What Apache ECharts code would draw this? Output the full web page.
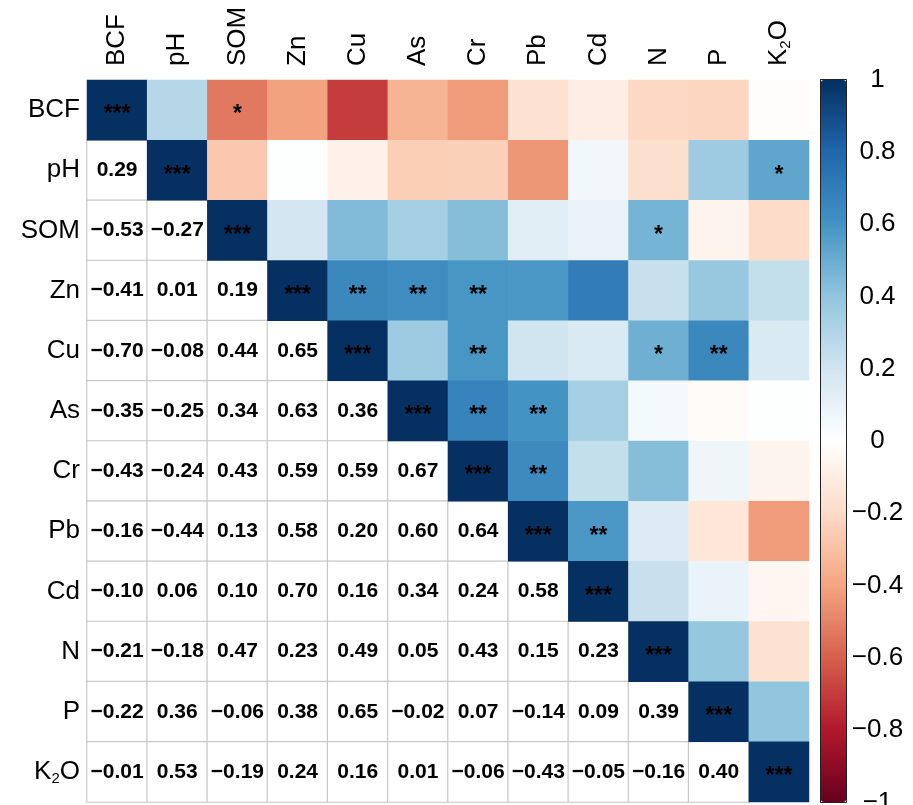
<!DOCTYPE html>
<html>
<head>
<meta charset="utf-8">
<script src="https://cdn.jsdelivr.net/npm/echarts@6/dist/echarts.min.js"></script>
<style>
  html, body { margin: 0; padding: 0; background: #fff; }
  #chart { width: 913px; height: 805px; }
</style>
</head>
<body>
<div id="chart"></div>
<script>
// ---- data ----
const vars = ['BCF', 'pH', 'SOM', 'Zn', 'Cu', 'As', 'Cr', 'Pb', 'Cd', 'N', 'P', 'K2O'];

// lower-triangle correlation coefficients (row variable vs. earlier columns)
const corrBCF = [];
const corrPH  = [0.29];
const corrSOM = [-0.53, -0.27];
const corrZn  = [-0.41, 0.01, 0.19];
const corrCu  = [-0.70, -0.08, 0.44, 0.65];
const corrAs  = [-0.35, -0.25, 0.34, 0.63, 0.36];
const corrCr  = [-0.43, -0.24, 0.43, 0.59, 0.59, 0.67];
const corrPb  = [-0.16, -0.44, 0.13, 0.58, 0.20, 0.60, 0.64];
const corrCd  = [-0.10, 0.06, 0.10, 0.70, 0.16, 0.34, 0.24, 0.58];
const corrN   = [-0.21, -0.18, 0.47, 0.23, 0.49, 0.05, 0.43, 0.15, 0.23];
const corrP   = [-0.22, 0.36, -0.06, 0.38, 0.65, -0.02, 0.07, -0.14, 0.09, 0.39];
const corrK2O = [-0.01, 0.53, -0.19, 0.24, 0.16, 0.01, -0.06, -0.43, -0.05, -0.16, 0.40];
const corrRows = [corrBCF, corrPH, corrSOM, corrZn, corrCu, corrAs, corrCr, corrPb, corrCd, corrN, corrP, corrK2O];

// significance marks in the upper triangle [row, column, mark]
const sigMarks = [
  ['BCF', 'SOM', '*'],
  ['pH', 'K2O', '*'],
  ['SOM', 'N', '*'],
  ['Zn', 'Cu', '**'], ['Zn', 'As', '**'], ['Zn', 'Cr', '**'],
  ['Cu', 'Cr', '**'], ['Cu', 'N', '*'], ['Cu', 'P', '**'],
  ['As', 'Cr', '**'], ['As', 'Pb', '**'],
  ['Cr', 'Pb', '**'],
  ['Pb', 'Cd', '**']
];
const diagMark = '***';

// colorbar ticks
const cbMin = -1, cbMax = 1, cbStep = 0.2;

// ---- build series data ----
const lowerData = [];
const upperData = [];
const n = vars.length;
for (let i = 0; i < n; i++) {
  for (let j = 0; j < i; j++) {
    lowerData.push([j, i, corrRows[i][j]]);   // lower cell: row i, col j
    upperData.push([i, j, corrRows[i][j]]);   // mirrored upper cell: row j, col i
  }
  upperData.push([i, i, 1]);
}
const markMap = {};
sigMarks.forEach(m => { markMap[vars.indexOf(m[0]) + '_' + vars.indexOf(m[1])] = m[2]; });
for (let i = 0; i < n; i++) markMap[i + '_' + i] = diagMark;

function fmtNum(v) {
  const s = Math.abs(v).toFixed(2);
  return (v < 0 ? '\u2212' : '') + s;
}
function fmtVar(v) {
  return v === 'K2O' ? 'K{s|2}O' : v;
}
const FONT = 'Arial, "Liberation Sans", Helvetica, sans-serif';
const labelRich = { s: { fontSize: 15, fontFamily: FONT, color: '#000', padding: [13, 0, 0, 0], verticalAlign: 'bottom' } };

const chart = echarts.init(document.getElementById('chart'), null, { renderer: 'canvas' });
const GL = 87, GT = 80, GW = 722, GH = 722;
chart.setOption({
  animation: false,
  backgroundColor: '#fff',
  grid: [
    { left: GL, top: GT, width: GW, height: GH, outerBoundsMode: 'none', containLabel: false },
    { left: 820.5, top: 79.5, width: 26, height: 723, outerBoundsMode: 'none', containLabel: false,
      show: true, borderColor: '#222', borderWidth: 1, backgroundColor: 'transparent', z: 10 }
  ],
  xAxis: [
    {
      gridIndex: 0, type: 'category', position: 'top', data: vars,
      axisLine: { show: false }, axisTick: { show: false }, splitLine: { show: false },
      axisLabel: { interval: 0, rotate: -90, margin: 14, fontSize: 26, color: '#000', fontFamily: FONT,
        formatter: fmtVar, rich: labelRich }
    },
    { gridIndex: 1, type: 'value', show: false, min: 0, max: 1 }
  ],
  yAxis: [
    {
      gridIndex: 0, type: 'category', inverse: true, data: vars,
      axisLine: { show: false }, axisTick: { show: false }, splitLine: { show: false },
      axisLabel: { interval: 0, margin: 7, fontSize: 26, color: '#000', fontFamily: FONT,
        formatter: fmtVar, rich: labelRich }
    },
    {
      gridIndex: 1, type: 'value', position: 'right', min: cbMin, max: cbMax, interval: cbStep,
      axisLine: { show: false }, splitLine: { show: false },
      axisTick: { show: true, length: 6, lineStyle: { color: '#222', width: 1 } },
      axisLabel: { margin: 31, align: 'center', fontSize: 26, color: '#000', fontFamily: FONT,
        formatter: v => { const a = parseFloat(Math.abs(v).toFixed(1)); return a === 0 ? '0' : (v < 0 ? '\u2212' : '') + a; } }
    }
  ],
  visualMap: {
    type: 'continuous', min: cbMin, max: cbMax, seriesIndex: 1, calculable: false,
    orient: 'vertical', left: 821, top: 80, itemWidth: 25, itemHeight: 722, padding: 0,
    text: null, showLabel: false,
    inRange: { color: ['#67001F', '#B2182B', '#D6604D', '#F4A582', '#FDDBC7', '#FFFFFF',
                       '#D1E5F0', '#92C5DE', '#4393C3', '#2166AC', '#053061'] }
  },
  series: [
    {
      type: 'heatmap', xAxisIndex: 0, yAxisIndex: 0, data: lowerData,
      itemStyle: { color: '#fff', borderColor: '#c8c8c8', borderWidth: 1.2 },
      emphasis: { disabled: true },
      label: { show: true, formatter: p => fmtNum(p.value[2]), fontSize: 21, fontWeight: 'bold',
        color: '#000', fontFamily: FONT }
    },
    {
      type: 'heatmap', xAxisIndex: 0, yAxisIndex: 0, data: upperData,
      emphasis: { disabled: true },
      label: { show: true, formatter: p => markMap[p.value[1] + '_' + p.value[0]] || '',
        fontSize: 23, fontWeight: 'bold', color: '#000', fontFamily: FONT, offset: [0, 5] }
    }
  ]
});
</script>
</body>
</html>
